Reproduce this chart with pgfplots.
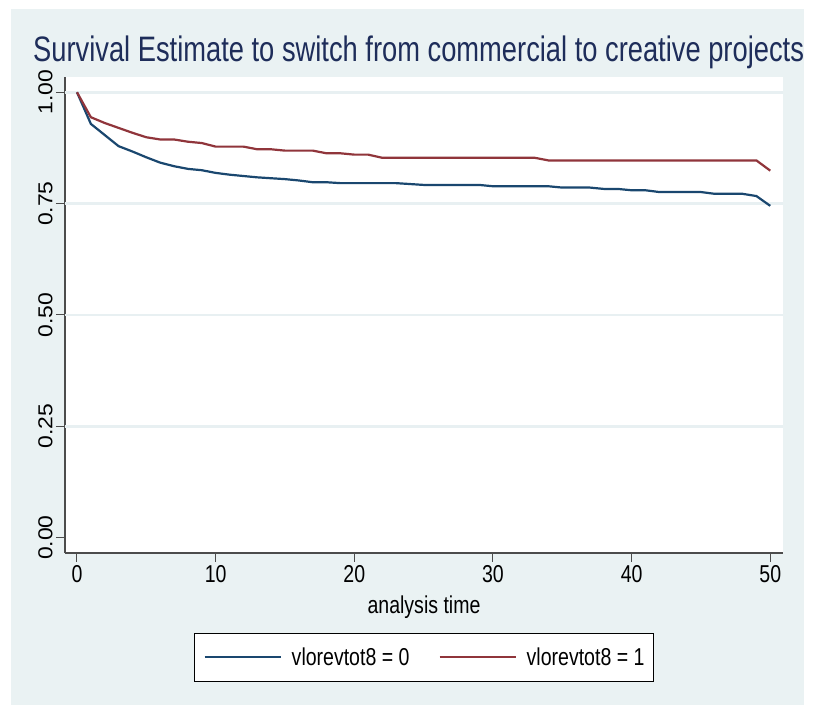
\documentclass[border=0pt]{standalone}
\usepackage{pgfplots}
\pgfplotsset{compat=1.18}
\usepackage{fontspec}
\setmainfont{Liberation Sans}
\newfontfamily\narrowfont{Liberation Sans}[FakeStretch=0.8]
\newfontfamily\titlefont{Liberation Sans}[FakeStretch=0.772]
\definecolor{bgc}{RGB}{234,242,243}
\definecolor{gridc}{RGB}{232,240,242}
\definecolor{stnavy}{RGB}{26,71,111}
\definecolor{stmaroon}{RGB}{144,53,59}
\definecolor{titlec}{RGB}{30,45,90}

\begin{document}
\begin{tikzpicture}[x=1bp,y=1bp]
\fill[white] (0,0) rectangle (825,706);
\fill[bgc] (11,1) rectangle (804,696.7);
\node[anchor=base west, inner sep=0pt, text=titlec, font=\titlefont\fontsize{35.5}{40}\selectfont] at (33,644.3) {Survival Estimate to switch from commercial to creative projects};
\begin{axis}[
  at={(65bp,153bp)}, anchor=south west,
  scale only axis, width=718bp, height=476.3bp,
  xmin=-0.865, xmax=50.92, ymin=-0.0344, ymax=1.035,
  axis x line*=bottom, axis y line*=left,
  axis line style={-, black!70, line width=1.2bp},
  axis background/.style={fill=white},
  xtick={0,10,20,30,40,50},
  xticklabels={0,10,20,30,40,50},
  ytick={0,0.25,0.5,0.75,1},
  yticklabels={{\scalebox{1}[0.88]{0.00}},{\scalebox{1}[0.88]{0.25}},{\scalebox{1}[0.88]{0.50}},{\scalebox{1}[0.88]{0.75}},{\scalebox{1}[0.88]{1.00}}},
  tick align=outside, major tick length=9bp,
  tick style={black!70, line width=1bp},
  xticklabel style={font=\narrowfont\fontsize{24.5}{28}\selectfont},
  yticklabel style={rotate=90, anchor=south, font=\fontsize{23}{26}\selectfont},
  extra y ticks={0.25,0.5,0.75,1},
  extra y tick labels={},
  extra y tick style={grid=major, major tick length=0pt},
  major grid style={gridc, line width=2.5bp},
  xlabel={analysis time},
  xlabel style={font=\narrowfont\fontsize{24.5}{28}\selectfont, at={(axis description cs:0.5,-0.1262)}, anchor=base},
  legend style={at={(0.5,-0.1674)}, anchor=north, legend columns=2, draw=black, line width=1bp, fill=white,
    font=\narrowfont\fontsize{24.5}{28}\selectfont, inner xsep=9.5bp, inner ysep=14.5bp,
    nodes={inner sep=0pt},
    /tikz/every odd column/.append style={column sep=10bp},
    /tikz/every even column/.append style={column sep=29bp}},
  legend cell align=left,
  legend image code/.code={\draw[#1, line width=2.2bp] (0bp,0bp) -- (76bp,0bp);},
]
\addplot[stnavy, line width=2.2bp] coordinates {
(0,1.000) (1,0.929) (2,0.904) (3,0.879) (4,0.867) (5,0.854) (6,0.842) (7,0.834) (8,0.828) (9,0.825)
(10,0.819) (11,0.815) (12,0.812) (13,0.809) (14,0.807) (15,0.805) (16,0.802) (17,0.798) (18,0.798) (19,0.796)
(20,0.796) (21,0.796) (22,0.796) (23,0.796) (24,0.794) (25,0.792) (26,0.792) (27,0.792) (28,0.792) (29,0.792)
(30,0.789) (31,0.789) (32,0.789) (33,0.789) (34,0.789) (35,0.786) (36,0.786) (37,0.786) (38,0.783) (39,0.783)
(40,0.780) (41,0.780) (42,0.776) (43,0.776) (44,0.776) (45,0.776) (46,0.772) (47,0.772) (48,0.772) (49,0.767)
(50,0.745)};
\addlegendentry{vlorevtot8 = 0}
\addplot[stmaroon, line width=2.2bp] coordinates {
(0,1.000) (1,0.944) (2,0.931) (3,0.920) (4,0.909) (5,0.899) (6,0.894) (7,0.894) (8,0.889) (9,0.886)
(10,0.878) (11,0.878) (12,0.878) (13,0.872) (14,0.872) (15,0.869) (16,0.869) (17,0.869) (18,0.863) (19,0.863)
(20,0.860) (21,0.860) (22,0.853) (23,0.853) (24,0.853) (25,0.853) (26,0.853) (27,0.853) (28,0.853) (29,0.853)
(30,0.853) (31,0.853) (32,0.853) (33,0.853) (34,0.847) (35,0.847) (36,0.847) (37,0.847) (38,0.847) (39,0.847)
(40,0.847) (41,0.847) (42,0.847) (43,0.847) (44,0.847) (45,0.847) (46,0.847) (47,0.847) (48,0.847) (49,0.847)
(50,0.824)};
\addlegendentry{vlorevtot8 = 1}
\end{axis}
\end{tikzpicture}
\end{document}
